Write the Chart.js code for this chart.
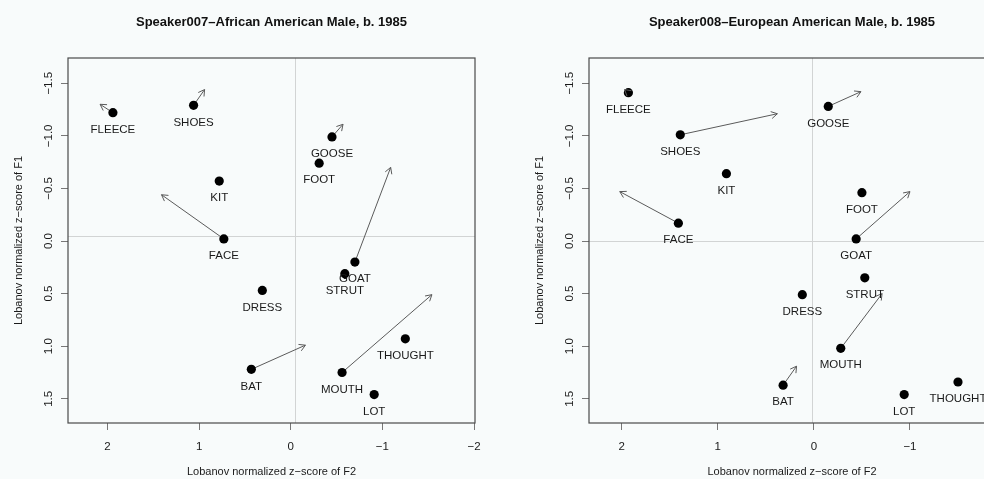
<!DOCTYPE html>
<html>
<head>
<meta charset="utf-8">
<script src="https://cdn.jsdelivr.net/npm/chart.js@4/dist/chart.umd.min.js"></script>
<style>
  html, body { margin:0; padding:0; background:#f8fbfb; overflow:hidden; width:984px; height:479px; }
  canvas { position:absolute; top:0; }
  #c1 { left:0; }
  #c2 { left:492px; }
</style>
</head>
<body>
<canvas id="c1" width="492" height="479"></canvas>
<canvas id="c2" width="530" height="479"></canvas>
<script>
// ---------- Data: Speaker007 ----------
const title007 = 'Speaker007\u2013African American Male, b. 1985';
const vowels007 = ['FLEECE','SHOES','GOOSE','FOOT','KIT','FACE','GOAT','STRUT','DRESS','THOUGHT','BAT','MOUTH','LOT'];
const f2_007 = [1.94, 1.06, -0.45, -0.31, 0.78, 0.73, -0.70, -0.59, 0.31, -1.25, 0.43, -0.56, -0.91];
const f1_007 = [-1.22, -1.29, -0.99, -0.74, -0.57, -0.02, 0.20, 0.31, 0.47, 0.93, 1.22, 1.25, 1.46];
const arrowFrom007 = ['FLEECE','SHOES','GOOSE','FACE','GOAT','BAT','MOUTH'];
const arrowF2_007 = [2.08, 0.94, -0.57, 1.41, -1.09, -0.16, -1.54];
const arrowF1_007 = [-1.30, -1.44, -1.11, -0.44, -0.70, 0.99, 0.51];
const ref007 = { f2: -0.045, f1: -0.045 };
const range007 = { f2min: -2.01, f2max: 2.43, f1min: -1.74, f1max: 1.73 };

// ---------- Data: Speaker008 ----------
const title008 = 'Speaker008\u2013European American Male, b. 1985';
const vowels008 = ['FLEECE','GOOSE','SHOES','KIT','FOOT','FACE','GOAT','STRUT','DRESS','MOUTH','THOUGHT','BAT','LOT'];
const f2_008 = [1.93, -0.15, 1.39, 0.91, -0.50, 1.41, -0.44, -0.53, 0.12, -0.28, -1.50, 0.32, -0.94];
const f1_008 = [-1.41, -1.28, -1.01, -0.64, -0.46, -0.17, -0.02, 0.35, 0.51, 1.02, 1.34, 1.37, 1.46];
const arrowFrom008 = ['FLEECE','GOOSE','SHOES','FACE','GOAT','MOUTH','BAT'];
const arrowF2_008 = [1.97, -0.49, 0.38, 2.02, -1.00, -0.71, 0.18];
const arrowF1_008 = [-1.44, -1.42, -1.21, -0.47, -0.47, 0.50, 1.19];
const ref008 = { f2: 0.015, f1: -0.005 };
const range008 = { f2min: -1.885, f2max: 2.34, f1min: -1.74, f1max: 1.73 };

const xTitle = 'Lobanov normalized z\u2212score of F2';
const yTitle = 'Lobanov normalized z\u2212score of F1';

// ---------- helpers ----------
const FONT = '"Liberation Sans", Arial, Helvetica, sans-serif';
const TXT = '#1a1a1a';
function fmt(v, d) {
  if (Math.abs(v) < 1e-9) v = 0;
  const s = v.toFixed(d);
  return s.replace('-', '\u2212');
}

const overlay = {
  id: 'overlay',
  beforeDatasetsDraw(chart, args, opts) {
    const { ctx, chartArea: a, scales: { x, y } } = chart;
    ctx.save();
    ctx.strokeStyle = '#d2d4d4';
    ctx.lineWidth = 1;
    const px = Math.round(x.getPixelForValue(opts.refX)) + 0.5;
    const py = Math.round(y.getPixelForValue(opts.refY)) + 0.5;
    ctx.beginPath();
    ctx.moveTo(px, a.top); ctx.lineTo(px, a.bottom);
    ctx.moveTo(a.left, py); ctx.lineTo(a.right, py);
    ctx.stroke();
    ctx.restore();
  },
  afterDatasetsDraw(chart, args, opts) {
    const { ctx, chartArea: a } = chart;
    ctx.save();
    // arrowheads
    chart.data.datasets.forEach((ds, i) => {
      if (!ds.isArrow) return;
      const m = chart.getDatasetMeta(i);
      const p0 = m.data[0], p1 = m.data[1];
      const ang = Math.atan2(p1.y - p0.y, p1.x - p0.x);
      const L = 7, w = Math.PI / 6;
      ctx.strokeStyle = ds.borderColor;
      ctx.lineWidth = 1;
      ctx.beginPath();
      ctx.moveTo(p1.x - L * Math.cos(ang - w), p1.y - L * Math.sin(ang - w));
      ctx.lineTo(p1.x, p1.y);
      ctx.lineTo(p1.x - L * Math.cos(ang + w), p1.y - L * Math.sin(ang + w));
      ctx.stroke();
    });
    // vowel labels
    const dm = chart.getDatasetMeta(0);
    const labels = chart.data.datasets[0].vowelLabels;
    ctx.fillStyle = TXT;
    ctx.font = '11.5px ' + FONT;
    ctx.textAlign = 'center';
    ctx.textBaseline = 'middle';
    dm.data.forEach((p, k) => {
      ctx.fillText(labels[k], p.x, p.y + 17);
    });
    // box
    ctx.strokeStyle = '#4a4a4a';
    ctx.lineWidth = 1.2;
    ctx.strokeRect(a.left, a.top, a.right - a.left, a.bottom - a.top);
    ctx.restore();
  }
};

function build(canvasId, cfg) {
  const pts = cfg.vowels.map((v, i) => ({ x: cfg.f2[i], y: cfg.f1[i] }));
  const datasets = [{
    type: 'scatter',
    data: pts,
    vowelLabels: cfg.vowels,
    pointRadius: 4.6,
    pointBackgroundColor: '#000',
    pointBorderColor: '#000',
    pointBorderWidth: 0,
    showLine: false
  }];
  cfg.arrowFrom.forEach((v, i) => {
    const k = cfg.vowels.indexOf(v);
    datasets.push({
      type: 'line',
      isArrow: true,
      data: [{ x: cfg.f2[k], y: cfg.f1[k] }, { x: cfg.arrowF2[i], y: cfg.arrowF1[i] }],
      borderColor: '#5a5a5a',
      borderWidth: 1,
      pointRadius: 0,
      fill: false,
      tension: 0
    });
  });
  return new Chart(document.getElementById(canvasId), {
    type: 'scatter',
    data: { datasets },
    plugins: [overlay],
    options: {
      responsive: false,
      animation: false,
      devicePixelRatio: 1,
      layout: { padding: cfg.padding },
      plugins: {
        legend: { display: false },
        tooltip: { enabled: false },
        title: {
          display: true, text: cfg.title, fullSize: false, color: '#111',
          font: { family: FONT, size: 13, weight: 'bold' },
          padding: { top: 15, bottom: 27.4 }
        },
        overlay: { refX: cfg.ref.f2, refY: cfg.ref.f1 }
      },
      scales: {
        x: {
          type: 'linear', position: 'bottom', reverse: true,
          min: cfg.range.f2min, max: cfg.range.f2max,
          ticks: { stepSize: 1, includeBounds: false, padding: 10, color: TXT,
                   font: { family: FONT, size: 11.5 }, callback: v => fmt(v, 0) },
          grid: { drawOnChartArea: false, drawTicks: true, tickLength: 7, tickColor: '#777', tickWidth: 1 },
          border: { display: false },
          title: { display: true, text: xTitle, color: TXT, font: { family: FONT, size: 11 }, padding: { top: 0, bottom: 0 } },
          afterFit: s => { s.height = 56; }
        },
        y: {
          type: 'linear', position: 'left', reverse: true,
          min: cfg.range.f1min, max: cfg.range.f1max,
          ticks: { stepSize: 0.5, includeBounds: false, padding: 1, minRotation: 90, maxRotation: 90,
                   crossAlign: 'center', color: TXT,
                   font: { family: FONT, size: 11.5 }, callback: v => fmt(v, 1) },
          grid: { drawOnChartArea: false, drawTicks: true, tickLength: 7, tickColor: '#777', tickWidth: 1 },
          border: { display: false },
          title: { display: true, text: yTitle, color: TXT, font: { family: FONT, size: 11 }, padding: { top: 12, bottom: 0 } },
          afterFit: s => { s.width = 68; }
        }
      }
    }
  });
}

build('c1', {
  title: title007, vowels: vowels007, f2: f2_007, f1: f1_007,
  arrowFrom: arrowFrom007, arrowF2: arrowF2_007, arrowF1: arrowF1_007,
  ref: ref007, range: range007,
  padding: { left: 0, right: 17, top: 0, bottom: 0 }
});
build('c2', {
  title: title008, vowels: vowels008, f2: f2_008, f1: f1_008,
  arrowFrom: arrowFrom008, arrowF2: arrowF2_008, arrowF1: arrowF1_008,
  ref: ref008, range: range008,
  padding: { left: 29, right: 27, top: 0, bottom: 0 }
});
</script>
</body>
</html>
